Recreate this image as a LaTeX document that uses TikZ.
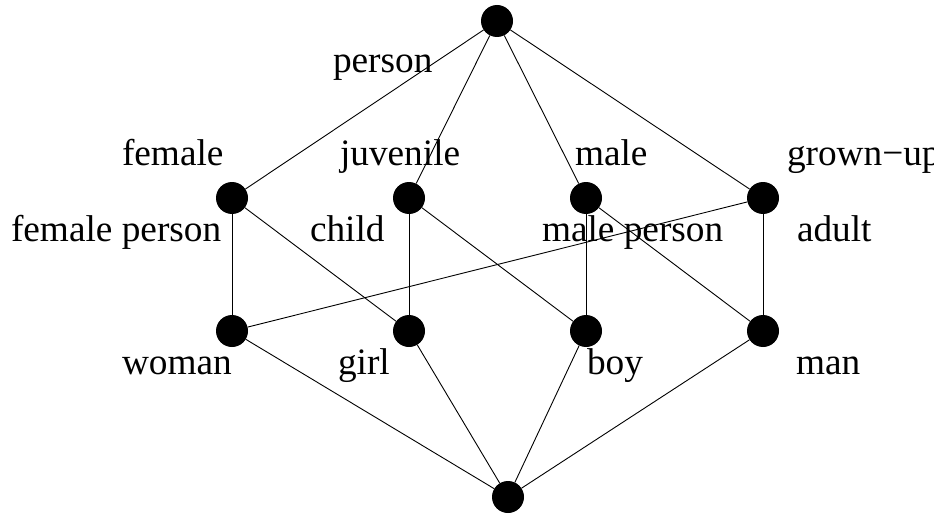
\documentclass[tikz,border=0pt]{standalone}
\usepackage{fontspec}
\setmainfont{Liberation Serif}
\begin{document}
\begin{tikzpicture}[x=1pt,y=-1pt,
  dot/.style={circle,fill=black,draw=none,minimum size=32pt,inner sep=0pt},
  lbl/.style={anchor=base west,inner sep=0pt,outer sep=0pt,font=\fontsize{37.3}{40}\selectfont},
  edge/.style={line width=0.9pt}]
\useasboundingbox (0,0) rectangle (934,516);
\node[dot] (top) at (497,21) {};
\node[dot] (female) at (232,198) {};
\node[dot] (juvenile) at (409,198) {};
\node[dot] (male) at (586,198) {};
\node[dot] (grownup) at (763,198) {};
\node[dot] (woman) at (232,331) {};
\node[dot] (girl) at (409,331) {};
\node[dot] (boy) at (586,331) {};
\node[dot] (man) at (763,331) {};
\node[dot] (bottom) at (508,497) {};
\foreach \a/\b in {top/female,top/juvenile,top/male,top/grownup,
  female/woman,female/girl,juvenile/girl,juvenile/boy,
  male/boy,male/man,grownup/woman,grownup/man,
  woman/bottom,girl/bottom,boy/bottom,man/bottom}
  \draw[edge] (\a) -- (\b);
\node[lbl] (lperson) at (333,73) {person};
\node[lbl] (lfemale) at (122,165) {female};
\node[lbl] (ljuvenile) at (340,165) {juvenile};
\node[lbl] (lmale) at (575,165) {male};
\node[lbl] (lgrownup) at (787,165) {grown−up};
\node[lbl] (lfemaleperson) at (11,241) {female person};
\node[lbl] (lchild) at (310,241) {child};
\node[lbl] (lmaleperson) at (542,241) {male person};
\node[lbl] (ladult) at (797,241) {adult};
\node[lbl] (lwoman) at (122,374) {woman};
\node[lbl] (lgirl) at (338,374) {girl};
\node[lbl] (lboy) at (587,374) {boy};
\node[lbl] (lman) at (796,374) {man};
\end{tikzpicture}
\end{document}
